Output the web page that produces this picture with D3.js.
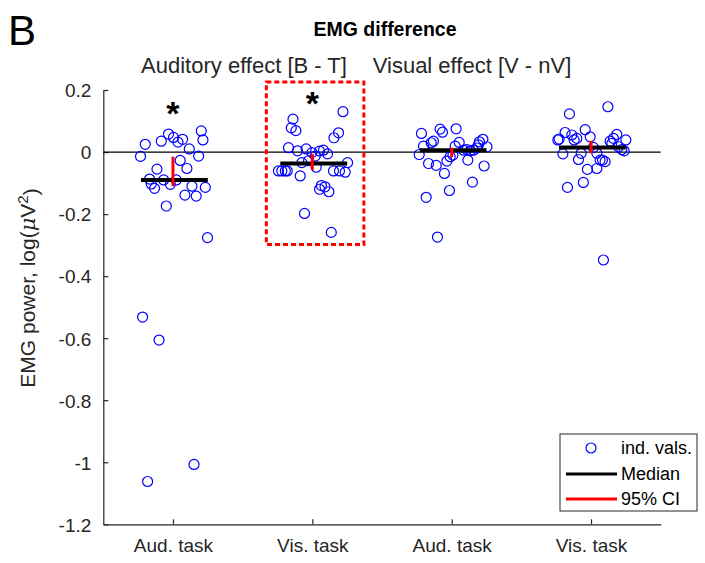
<!DOCTYPE html>
<html>
<head>
<meta charset="utf-8">
<script src="https://cdn.jsdelivr.net/npm/d3@7"></script>
<style>
  html, body { margin: 0; padding: 0; background: #fff; }
  svg text { font-family: "Liberation Sans", Arial, sans-serif; }
</style>
</head>
<body>
<svg id="chart" width="705" height="563"></svg>
<script>
// ---------- data ----------
const categories = ["Aud. task", "Vis. task", "Aud. task", "Vis. task"];
const groupTitles = ["Auditory effect [B - T]", "Visual effect [V - nV]"];
const yTicks = [0.2, 0, -0.2, -0.4, -0.6, -0.8, -1, -1.2];
const yTickLabels = ["0.2", "0", "-0.2", "-0.4", "-0.6", "-0.8", "-1", "-1.2"];

// individual values: x position (category + jitter) and value
const g1x = [1.203,1.215,0.968,0.916,0.801,1.004,1.036,1.069,1.117,0.767,1.052,1.184,0.885,1.100,0.832,0.844,0.868,0.933,0.981,1.024,1.136,1.232,1.086,1.167,0.952,1.248,0.782,0.900,1.151,0.818];
const g1y = [0.068,0.039,0.058,0.035,0.025,0.047,0.032,0.041,0.010,-0.014,-0.027,-0.013,-0.055,-0.053,-0.087,-0.103,-0.117,-0.090,-0.104,-0.090,-0.110,-0.114,-0.139,-0.142,-0.174,-0.276,-0.532,-0.606,-1.007,-1.062];
const g2x = [2.220,1.861,1.849,1.882,2.188,2.155,1.829,1.894,1.956,1.997,2.052,2.080,2.109,2.021,1.925,1.973,2.028,2.253,1.757,1.781,1.806,1.820,1.913,2.152,2.195,2.236,2.065,2.091,2.119,2.052,1.944,2.136];
const g2y = [0.130,0.106,0.078,0.069,0.062,0.046,0.014,0.004,0.010,-0.002,0.003,0.006,-0.006,-0.013,-0.034,-0.028,-0.049,-0.034,-0.061,-0.061,-0.061,-0.061,-0.077,-0.061,-0.061,-0.065,-0.108,-0.112,-0.128,-0.120,-0.198,-0.259];
const g3x = [2.783,2.917,2.934,3.032,2.798,2.853,2.869,3.025,3.054,2.767,2.834,2.889,2.966,2.989,3.009,2.948,3.085,3.109,3.133,3.156,3.181,3.199,3.224,3.192,3.253,3.116,3.233,3.149,2.984,2.817,2.898];
const g3y = [0.060,0.074,0.064,0.075,0.019,0.030,0.035,0.019,0.031,-0.008,-0.037,-0.043,-0.029,-0.015,-0.010,-0.069,0.006,0.008,0.004,0.006,0.013,0.033,0.041,0.023,0.017,-0.026,-0.045,-0.097,-0.124,-0.146,-0.274];
const g4x = [4.121,3.845,3.958,3.814,3.771,3.762,3.862,3.879,3.898,3.994,4.185,4.161,4.137,4.250,4.149,4.197,4.221,4.238,4.017,4.042,3.929,3.798,3.910,4.065,4.101,4.082,3.974,4.042,3.945,3.831,4.089];
const g4y = [0.146,0.123,0.072,0.063,0.042,0.039,0.055,0.039,0.044,0.049,0.057,0.044,0.035,0.039,0.028,0.017,0.008,0.004,0.015,-0.004,-0.004,-0.006,-0.024,-0.026,-0.031,-0.026,-0.056,-0.053,-0.098,-0.114,-0.348];

const medians = [-0.090, -0.037, 0.006, 0.015];
const ciLow   = [-0.110, -0.058, -0.017, -0.004];
const ciHigh  = [-0.015, -0.006, 0.014, 0.036];

const starCats   = [1, 2];
const starValues = [0.150, 0.182];

// highlighted region (category range, value range)
const boxX = [1.67, 2.37];
const boxY = [-0.298, 0.226];

// ---------- drawing ----------
const svg = d3.select("#chart");
const axisColor = "#262626";

const x = d3.scaleLinear().domain([0.5, 4.5]).range([103.3, 660.7]);
const y = d3.scaleLinear().domain([-1.2, 0.2]).range([524.3, 90]);

// panel letter
svg.append("text").attr("x", 8).attr("y", 45)
  .style("font-size", "42px").attr("fill", "#000").text("B");

// title
svg.append("text").attr("x", 385).attr("y", 36).attr("text-anchor", "middle")
  .style("font-size", "19.5px").style("font-weight", "bold").attr("fill", "#000")
  .text("EMG difference");

// group titles
svg.append("text").attr("x", 244).attr("y", 73).attr("text-anchor", "middle")
  .style("font-size", "22px").attr("fill", axisColor).text(groupTitles[0]);
svg.append("text").attr("x", 472).attr("y", 73).attr("text-anchor", "middle")
  .style("font-size", "22px").attr("fill", axisColor).text(groupTitles[1]);

// y axis
const yAxis = d3.axisLeft(y).tickValues(yTicks).tickSizeInner(-5).tickSizeOuter(0)
  .tickPadding(12).tickFormat((d, i) => yTickLabels[i]);
const yg = svg.append("g").attr("transform", `translate(${x(0.5)},0)`).call(yAxis);
yg.select(".domain").attr("stroke", axisColor).attr("stroke-width", 1.2);
yg.selectAll(".tick line").attr("stroke", axisColor).attr("stroke-width", 1.2);
yg.selectAll(".tick text").attr("fill", axisColor).style("font-size", "19px")
  .style("font-family", "'Liberation Sans', Arial, sans-serif").attr("dy", "0.36em");

// x axis
const xAxis = d3.axisBottom(x).tickValues([1, 2, 3, 4]).tickSizeInner(-5).tickSizeOuter(0)
  .tickPadding(14).tickFormat((d, i) => categories[i]);
const xg = svg.append("g").attr("transform", `translate(0,${y(-1.2)})`).call(xAxis);
xg.select(".domain").attr("stroke", axisColor).attr("stroke-width", 1.2);
xg.selectAll(".tick line").attr("stroke", axisColor).attr("stroke-width", 1.2);
xg.selectAll(".tick text").attr("fill", axisColor).style("font-size", "19px")
  .style("font-family", "'Liberation Sans', Arial, sans-serif");

// y label
const yl = svg.append("text")
  .attr("transform", `translate(35,${288}) rotate(-90)`)
  .attr("text-anchor", "middle").attr("fill", axisColor).style("font-size", "21px");
yl.append("tspan").text("EMG power, log(");
yl.append("tspan").style("font-style", "italic").style("font-family", "'DejaVu Serif', serif").text("μ");
yl.append("tspan").text("V");
yl.append("tspan").attr("dy", "-0.45em").style("font-size", "15px").text("2");
yl.append("tspan").attr("dy", "0.45em").text(")");

// zero line
svg.append("line").attr("x1", x(0.5)).attr("x2", x(4.5)).attr("y1", y(0)).attr("y2", y(0))
  .attr("stroke", "#000").attr("stroke-width", 1.2);

// points
const groups = [[g1x, g1y], [g2x, g2y], [g3x, g3y], [g4x, g4y]];
const pts = [];
groups.forEach(([gx, gy]) => gx.forEach((v, i) => pts.push({x: v, y: gy[i]})));
svg.append("g").selectAll("circle").data(pts).join("circle")
  .attr("cx", d => x(d.x)).attr("cy", d => y(d.y)).attr("r", 5)
  .attr("fill", "none").attr("stroke", "#0000ff").attr("stroke-width", 1.2);

// medians
svg.append("g").selectAll("line").data(medians).join("line")
  .attr("x1", (d, i) => x(i + 1 - 0.23)).attr("x2", (d, i) => x(i + 1 + 0.25))
  .attr("y1", d => y(d)).attr("y2", d => y(d))
  .attr("stroke", "#000").attr("stroke-width", 4);

// CIs
svg.append("g").selectAll("line").data(ciLow).join("line")
  .attr("x1", (d, i) => x(i + 1)).attr("x2", (d, i) => x(i + 1))
  .attr("y1", d => y(d)).attr("y2", (d, i) => y(ciHigh[i]))
  .attr("stroke", "#ff0000").attr("stroke-width", 3);

// stars
svg.append("g").selectAll("text").data(starCats).join("text")
  .attr("x", d => x(d)).attr("y", (d, i) => y(starValues[i]))
  .attr("dy", "0.58em").attr("text-anchor", "middle")
  .style("font-size", "34px").style("font-weight", "bold").attr("fill", "#000").text("*");

// highlight box
svg.append("rect")
  .attr("x", x(boxX[0])).attr("y", y(boxY[1]))
  .attr("width", x(boxX[1]) - x(boxX[0])).attr("height", y(boxY[0]) - y(boxY[1]))
  .attr("fill", "none").attr("stroke", "#ff0000").attr("stroke-width", 3)
  .attr("stroke-dasharray", "5,3");

// legend
const lg = svg.append("g");
lg.append("rect").attr("x", 560).attr("y", 434).attr("width", 137).attr("height", 77)
  .attr("fill", "#fff").attr("stroke", axisColor).attr("stroke-width", 1);
lg.append("circle").attr("cx", 591).attr("cy", 448).attr("r", 5)
  .attr("fill", "none").attr("stroke", "#0000ff").attr("stroke-width", 1.2);
lg.append("line").attr("x1", 566).attr("x2", 617).attr("y1", 474).attr("y2", 474)
  .attr("stroke", "#000").attr("stroke-width", 3);
lg.append("line").attr("x1", 566).attr("x2", 617).attr("y1", 499).attr("y2", 499)
  .attr("stroke", "#ff0000").attr("stroke-width", 3);
const legTexts = ["ind. vals.", "Median", "95% CI"];
lg.selectAll("text.lt").data(legTexts).join("text").attr("class", "lt")
  .attr("x", 621).attr("y", (d, i) => [448, 474, 499][i]).attr("dy", "0.36em")
  .style("font-size", "18px").attr("fill", "#000").text(d => d);
</script>
</body>
</html>
